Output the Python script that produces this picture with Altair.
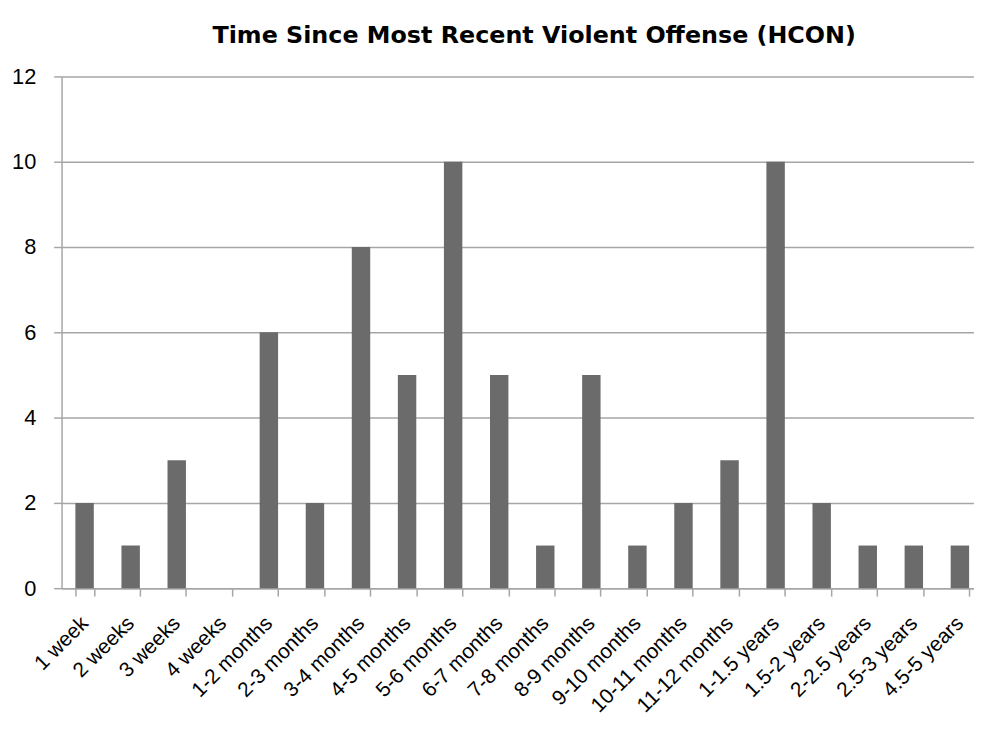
import altair as alt
import pandas as pd

categories = ["1 week", "2 weeks", "3 weeks", "4 weeks", "1-2 months", "2-3 months",
              "3-4 months", "4-5 months", "5-6 months", "6-7 months", "7-8 months",
              "8-9 months", "9-10 months", "10-11 months", "11-12 months", "1-1.5 years",
              "1.5-2 years", "2-2.5 years", "2.5-3 years", "4.5-5 years"]
counts = [2, 1, 3, 0, 6, 2, 8, 5, 10, 5, 1, 5, 1, 2, 3, 10, 2, 1, 1, 1]

df = pd.DataFrame({"cat": categories, "n": counts})

grid = "#a6a6a6"

chart = alt.Chart(df).mark_bar(color="#6b6b6b").encode(
    x=alt.X("cat:N", sort=categories, title=None,
            scale=alt.Scale(paddingInner=0.6, paddingOuter=0.3),
            axis=alt.Axis(labelAngle=-45, labelAlign="right", labelBaseline="middle",
                          tickBand="extent", tickSize=8, tickColor=grid,
                          tickWidth=1.5, domainColor=grid, domainWidth=1.5,
                          labelPadding=24, labelFont="Liberation Sans", labelFontSize=21,
                          labelColor="#000000", grid=False)),
    y=alt.Y("n:Q", title=None,
            scale=alt.Scale(domain=[0, 12], nice=False),
            axis=alt.Axis(values=[0, 2, 4, 6, 8, 10, 12], tickSize=8, tickColor=grid,
                          tickWidth=1.5, domainColor=grid, domainWidth=1.5,
                          gridColor=grid, gridWidth=1.5, labelPadding=18,
                          labelFont="Liberation Sans", labelFontSize=22,
                          labelColor="#000000")),
).properties(
    width=929, height=516,
    title=alt.TitleParams("Time Since Most Recent Violent Offense (HCON)",
                          font="DejaVu Sans", fontSize=24, fontWeight="bold",
                          color="#000000", anchor="middle", offset=18, dx=12),
    autosize=alt.AutoSizeParams(type="none"),
    padding={"left": 54, "top": 66, "right": -9, "bottom": 140},
).configure_view(stroke=None)

chart.save("out.html", embed_options={"renderer": "svg", "actions": False})
